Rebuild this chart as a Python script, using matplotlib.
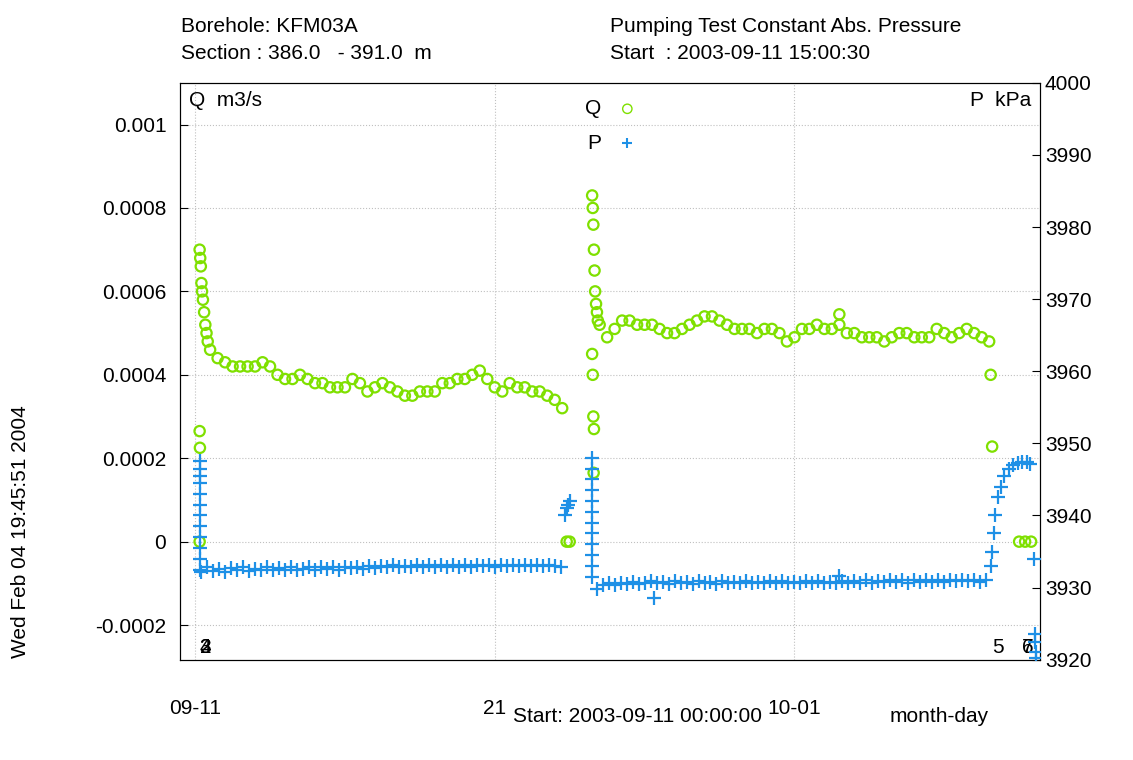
import numpy as np
import matplotlib
matplotlib.use("Agg")
import matplotlib.pyplot as plt

plt.rcParams['font.family'] = ['Liberation Sans', 'DejaVu Sans']

# time in days from 2003-09-11 00:00:00
# --- flow Q (m3/s) ---
q_spike1_t = [0.15, 0.17, 0.19, 0.21, 0.23, 0.26, 0.30, 0.34, 0.38, 0.42, 0.15, 0.16, 0.15]
q_spike1 = [0.0007, 0.00068, 0.00066, 0.00062, 0.0006, 0.00058, 0.00055, 0.00052, 0.0005, 0.00048, 0.000265, 0.000225, 0.0]
q1_t = np.arange(0.5, 12.26, 0.25)
q1 = [.00046, .00044, .00043, .00042, .00042, .00042, .00042, .00043, .00042, .0004,
      .00039, .00039, .0004, .00039, .00038, .00038, .00037, .00037, .00037, .00039,
      .00038, .00036, .00037, .00038, .00037, .00036, .00035, .00035, .00036, .00036,
      .00036, .00038, .00038, .00039, .00039, .0004, .00041, .00039, .00037, .00036,
      .00038, .00037, .00037, .00036, .00036, .00035, .00034, .00032]
q_spike2_t = [13.25, 13.27, 13.29, 13.31, 13.33, 13.35, 13.38, 13.41, 13.44, 13.25, 13.27, 13.29, 13.31, 13.3]
q_spike2 = [0.00083, 0.0008, 0.00076, 0.0007, 0.00065, 0.0006, 0.00057, 0.00055, 0.00053,
            0.00045, 0.0004, 0.0003, 0.00027, 0.000165]
q2_t = np.arange(13.5, 26.51, 0.25)
q2 = [.00052, .00049, .00051, .00053, .00053, .00052, .00052, .00052, .00051, .0005,
      .0005, .00051, .00052, .00053, .00054, .00054, .00053, .00052, .00051, .00051,
      .00051, .0005, .00051, .00051, .0005, .00048, .00049, .00051, .00051, .00052,
      .00051, .00051, .00052, .0005, .0005, .00049, .00049, .00049, .00048, .00049,
      .0005, .0005, .00049, .00049, .00049, .00051, .0005, .00049, .0005, .00051,
      .0005, .00049, .00048]
q_other_t = [21.5, 26.55, 26.6, 12.4, 12.5, 27.5, 27.7, 27.9]
q_other = [0.000545, 0.0004, 0.000228, 0.0, 0.0, 0.0, 0.0, 0.0]

# --- pressure P (kPa) ---
p_spike1_t = [0.15] * 12
p_spike1 = [3947.5, 3946.5, 3945.5, 3944.5, 3943, 3941.5, 3940, 3938.5, 3937, 3935.5, 3934, 3932.5]
p1_t = np.arange(0.2, 12.3, 0.2)
p1 = [3932.2, 3932.8, 3932.3, 3932.6, 3932.2, 3932.7, 3932.4, 3932.8, 3932.3, 3932.6,
      3932.4, 3932.8, 3932.5, 3932.7, 3932.4, 3932.8, 3932.5, 3932.6, 3932.8, 3932.5,
      3932.9, 3932.6, 3932.8, 3932.5, 3932.9, 3932.7, 3932.9, 3932.6, 3933.0, 3932.7,
      3933.0, 3932.8, 3933.1, 3932.8, 3933.0, 3932.9, 3933.1, 3932.8, 3933.2, 3932.9,
      3933.1, 3932.9, 3933.2, 3932.9, 3933.1, 3932.9, 3933.2, 3933.0, 3933.2, 3932.9,
      3933.2, 3933.0, 3933.2, 3933.0, 3933.2, 3933.0, 3933.2, 3933.0, 3933.1, 3933.0, 3932.9]
p_rec1_t = [12.35, 12.4, 12.45, 12.5]
p_rec1 = [3940.0, 3941.0, 3941.5, 3942.0]
p_spike2_t = [13.25] * 12
p_spike2 = [3948, 3946.5, 3945, 3943.5, 3942, 3940.5, 3939, 3937.5, 3936, 3934.5, 3933, 3931.5]
p2_t = np.arange(13.4, 26.5, 0.2)
p2 = [3929.8, 3930.3, 3930.6, 3930.4, 3930.7, 3930.5, 3930.8, 3930.5, 3930.7, 3930.9,
      3930.6, 3930.8, 3930.5, 3930.9, 3930.6, 3930.8, 3930.5, 3930.9, 3930.7, 3930.8,
      3930.5, 3930.9, 3930.7, 3930.8, 3930.6, 3930.9, 3930.7, 3930.8, 3930.6, 3930.9,
      3930.7, 3930.9, 3930.6, 3930.8, 3930.7, 3930.9, 3930.6, 3930.9, 3930.7, 3930.8,
      3930.6, 3930.9, 3930.7, 3930.9, 3930.7, 3931.0, 3930.7, 3930.9, 3930.8, 3931.0,
      3930.8, 3931.0, 3930.7, 3931.0, 3930.8, 3931.0, 3930.8, 3931.0, 3930.8, 3931.0,
      3930.9, 3931.0, 3930.9, 3931.0, 3930.8, 3931.0]
p_out_t = [15.3, 21.5]
p_out = [3928.6, 3931.6]
p_rec2_t = [26.55, 26.6, 26.65, 26.7, 26.8, 26.9, 27.0, 27.15, 27.3, 27.45, 27.6, 27.75, 27.85]
p_rec2 = [3933, 3935, 3937.5, 3940, 3942.5, 3944, 3945.5, 3946.5, 3947, 3947.3, 3947.4, 3947.4, 3947.2]
p_end_t = [28.0, 28.02, 28.04, 28.06, 28.08]
p_end = [3934.0, 3923.5, 3922.5, 3921.0, 3920.2]

q_col = '#7fe000'
p_col = '#1e90e6'

fig = plt.figure(figsize=(11.33, 7.6), dpi=100)
ax = fig.add_axes([0.159, 0.132, 0.759, 0.759])
ax2 = ax.twinx()

for t, v in [(q_spike1_t, q_spike1), (q1_t, q1), (q_spike2_t, q_spike2), (q2_t, q2), (q_other_t, q_other)]:
    ax.scatter(t, v, s=55, facecolors='none', edgecolors=q_col, linewidths=1.6, zorder=3)
for t, v in [(p_spike1_t, p_spike1), (p1_t, p1), (p_rec1_t, p_rec1), (p_spike2_t, p_spike2),
             (p2_t, p2), (p_out_t, p_out), (p_rec2_t, p_rec2), (p_end_t, p_end)]:
    ax2.scatter(t, v, s=110, marker='+', color=p_col, linewidths=1.6, zorder=3)

ax.set_xlim(-0.5, 28.2)
ax.set_ylim(-0.000283, 0.0011)
ax2.set_ylim(3920, 4000)

ax.set_xticks([0, 10, 20])
ax.set_xticklabels(['09-11', '21', '10-01'], fontsize=15)
ax.tick_params(axis='x', pad=28, length=0)
yt = [-0.0002, 0, 0.0002, 0.0004, 0.0006, 0.0008, 0.001]
ax.set_yticks(yt)
ax.set_yticklabels(['-0.0002', '0', '0.0002', '0.0004', '0.0006', '0.0008', '0.001'], fontsize=15)
ax.tick_params(axis='y', direction='in', length=6, pad=10)
ax2.set_yticks(np.arange(3920, 4001, 10))
ax2.tick_params(axis='y', direction='in', length=6, labelsize=15)
ax.grid(True, linestyle=':', color='#c0c0c0', linewidth=0.8)

ax.text(0.01, 0.985, 'Q  m3/s', transform=ax.transAxes, fontsize=15, va='top')
ax.text(0.99, 0.985, 'P  kPa', transform=ax.transAxes, fontsize=15, va='top', ha='right')
ax.text(0.49, 0.955, 'Q', transform=ax.transAxes, fontsize=15, va='center', ha='right')
ax.text(0.49, 0.895, 'P', transform=ax.transAxes, fontsize=15, va='center', ha='right')
ax.scatter([0.52], [0.955], s=45, facecolors='none', edgecolors=q_col, transform=ax.transAxes, clip_on=False)
ax.scatter([0.52], [0.895], s=55, marker='+', color=p_col, transform=ax.transAxes, clip_on=False)

for xx, lab in [(0.15, '2'), (0.15, '3'), (0.15, '4'), (26.6, '5'), (27.6, '6'), (27.6, '7')]:
    ax.text(xx, 0.005, lab, transform=ax.get_xaxis_transform(), fontsize=15, va='bottom')

fig.text(0.16, 0.965, 'Borehole: KFM03A', fontsize=15, va='center')
fig.text(0.16, 0.93, 'Section : 386.0   - 391.0  m', fontsize=15, va='center')
fig.text(0.538, 0.965, 'Pumping Test Constant Abs. Pressure', fontsize=15, va='center')
fig.text(0.538, 0.93, 'Start  : 2003-09-11 15:00:30', fontsize=15, va='center')
fig.text(0.453, 0.057, 'Start: 2003-09-11 00:00:00', fontsize=15, va='center')
fig.text(0.785, 0.057, 'month-day', fontsize=15, va='center')
fig.text(0.018, 0.3, 'Wed Feb 04 19:45:51 2004', fontsize=15, rotation=90, va='center', ha='center')

fig.savefig('out.png', dpi=100)
